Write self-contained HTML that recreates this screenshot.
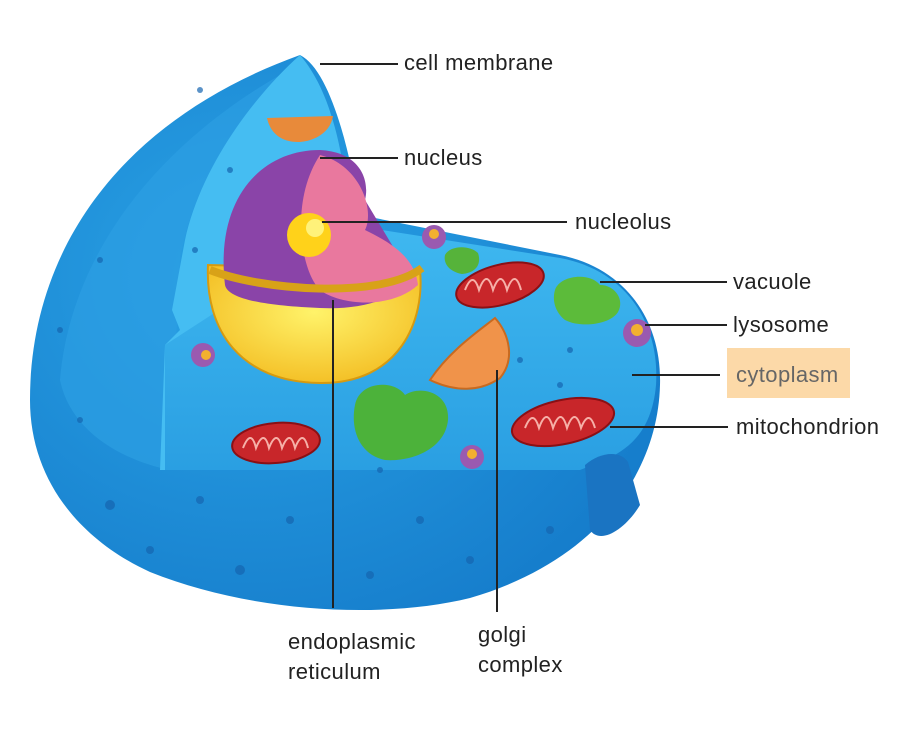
<!DOCTYPE html>
<html><head><meta charset="utf-8"><style>
html,body{margin:0;padding:0;background:#fff;}
svg{display:block}
text{font-family:"Liberation Sans",sans-serif;font-size:22px;letter-spacing:0.4px;fill:#222;}
</style></head><body>
<svg width="900" height="737" viewBox="0 0 900 737">
<defs>
<radialGradient id="body" cx="0.35" cy="0.4" r="0.8"><stop offset="0" stop-color="#2aa3e6"/><stop offset="1" stop-color="#1378c8"/></radialGradient>
<linearGradient id="floor" x1="0" y1="0" x2="0" y2="1"><stop offset="0" stop-color="#3fb8f0"/><stop offset="1" stop-color="#2a9fe2"/></linearGradient>
<radialGradient id="yel" cx="0.5" cy="0.4" r="0.7"><stop offset="0" stop-color="#fff36a"/><stop offset="1" stop-color="#f2b81c"/></radialGradient>
</defs>
<path d="M30,400 C30,250 120,120 300,55 C330,70 350,150 360,215 L560,255 C625,268 662,320 660,385 C658,470 600,560 470,598 C380,620 250,612 150,572 C80,540 30,480 30,400 Z" fill="url(#body)"/>
<path d="M60,380 C70,260 150,150 280,75 C220,140 190,200 180,260 L170,470 C120,460 70,430 60,380 Z" fill="#2c9ee3" opacity="0.7"/>
<path d="M300,55 C250,100 200,170 185,240 L172,310 L180,330 L165,345 L160,470 L240,470 L240,330 L350,230 C345,150 330,90 300,55 Z" fill="#45bdf2"/>
<path d="M165,345 L350,225 L560,258 C625,270 660,322 656,385 C652,430 630,450 600,462 L580,470 L165,470 Z" fill="url(#floor)"/>
<path d="M585,465 C600,452 620,450 628,462 L640,505 C625,530 600,545 590,530 Z" fill="#1a74c2"/>
<g fill="#1565b0" opacity="0.7">
<circle cx="80" cy="420" r="3"/><circle cx="110" cy="505" r="5"/><circle cx="150" cy="550" r="4"/><circle cx="200" cy="500" r="4"/><circle cx="240" cy="570" r="5"/><circle cx="290" cy="520" r="4"/><circle cx="370" cy="575" r="4"/><circle cx="420" cy="520" r="4"/><circle cx="470" cy="560" r="4"/><circle cx="550" cy="530" r="4"/><circle cx="60" cy="330" r="3"/><circle cx="100" cy="260" r="3"/>
<circle cx="200" cy="90" r="3"/><circle cx="230" cy="170" r="3"/><circle cx="195" cy="250" r="3"/><circle cx="520" cy="360" r="3"/><circle cx="570" cy="350" r="3"/><circle cx="560" cy="385" r="3"/><circle cx="420" cy="450" r="3"/><circle cx="380" cy="470" r="3"/>
</g>
<path d="M208,265 C205,330 240,382 320,383 C400,384 425,320 420,270 Z" fill="url(#yel)" stroke="#d69a10" stroke-width="2"/>
<path d="M225,285 C215,200 260,150 320,150 C360,152 370,180 365,200 L410,275 C400,300 360,310 320,308 C270,306 228,300 225,285 Z" fill="#8a44a8"/>
<path d="M320,155 C360,165 375,210 365,230 C385,240 415,255 418,285 C390,310 340,305 320,290 C300,270 290,200 320,155 Z" fill="#e9789e"/>
<path d="M210,270 C260,290 380,300 422,268" fill="none" stroke="#d8a218" stroke-width="8"/>
<circle cx="309" cy="235" r="22" fill="#ffd21a"/><circle cx="315" cy="228" r="9" fill="#fff27a"/>
<path d="M267,118 L333,116 C330,135 310,142 298,142 C280,142 270,132 267,118 Z" fill="#e88a3a"/>
<path d="M430,380 C450,350 480,330 495,318 C510,335 515,360 500,378 C480,392 455,392 430,380 Z" fill="#f0934a" stroke="#c86a20" stroke-width="2"/>
<g fill="#c8262a" stroke="#8a1015" stroke-width="2">
<ellipse cx="500" cy="285" rx="45" ry="20" transform="rotate(-15 500 285)"/>
<ellipse cx="563" cy="422" rx="52" ry="22" transform="rotate(-12 563 422)"/>
<ellipse cx="276" cy="443" rx="44" ry="20" transform="rotate(-5 276 443)"/>
</g>
<g fill="none" stroke="#f6b0a8" stroke-width="2">
<path d="M465,290 q8,-20 14,0 q8,-22 14,0 q8,-22 14,0 q8,-22 14,0"/>
<path d="M525,428 q8,-20 14,0 q8,-22 14,0 q8,-22 14,0 q8,-22 14,0 q8,-20 14,0"/>
<path d="M243,448 q8,-20 13,0 q8,-20 13,0 q8,-20 13,0 q8,-20 13,0 q8,-20 13,0"/>
</g>
<path d="M355,405 C360,380 395,380 405,395 C420,385 450,392 448,420 C445,450 410,462 385,460 C360,455 350,430 355,405 Z" fill="#4cb23a"/>
<path d="M555,290 C560,275 590,272 600,285 C615,285 625,300 618,312 C610,325 580,328 565,320 C555,312 552,300 555,290 Z" fill="#5cbb3a"/>
<path d="M445,255 C450,245 470,245 478,253 C482,265 475,273 462,274 C450,272 443,264 445,255 Z" fill="#56b33a"/>
<g fill="#9a5ab0"><circle cx="637" cy="333" r="14"/><circle cx="472" cy="457" r="12"/><circle cx="434" cy="237" r="12"/><circle cx="203" cy="355" r="12"/></g>
<g fill="#f2b030"><circle cx="637" cy="330" r="6"/><circle cx="472" cy="454" r="5"/><circle cx="434" cy="234" r="5"/><circle cx="206" cy="355" r="5"/></g>
<g stroke="#222" stroke-width="2">
<line x1="320" y1="64" x2="398" y2="64"/>
<line x1="320" y1="158" x2="398" y2="158"/>
<line x1="322" y1="222" x2="567" y2="222"/>
<line x1="600" y1="282" x2="727" y2="282"/>
<line x1="645" y1="325" x2="727" y2="325"/>
<line x1="632" y1="375" x2="720" y2="375"/>
<line x1="610" y1="427" x2="728" y2="427"/>
<line x1="333" y1="300" x2="333" y2="608"/>
<line x1="497" y1="370" x2="497" y2="612"/>
</g>
<rect x="727" y="348" width="123" height="50" fill="#fcd9a8"/>
<text x="404" y="70">cell membrane</text>
<text x="404" y="165">nucleus</text>
<text x="575" y="229">nucleolus</text>
<text x="733" y="289">vacuole</text>
<text x="733" y="332">lysosome</text>
<text x="736" y="382" style="fill:#666">cytoplasm</text>
<text x="736" y="434">mitochondrion</text>
<text x="288" y="649">endoplasmic</text>
<text x="288" y="679">reticulum</text>
<text x="478" y="642">golgi</text>
<text x="478" y="672">complex</text>
</svg>
</body></html>
